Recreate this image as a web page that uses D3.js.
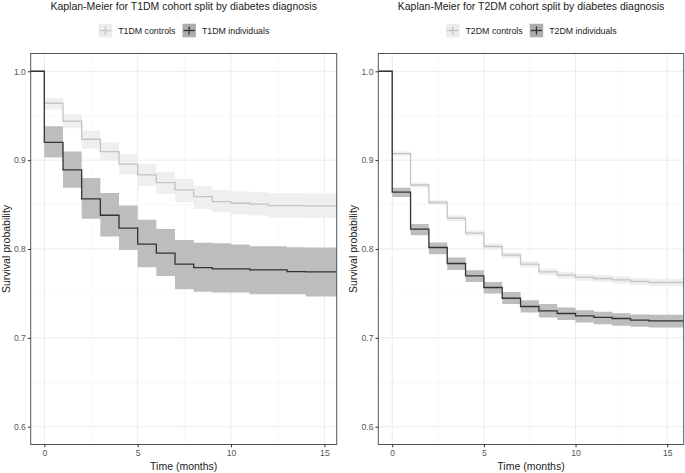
<!DOCTYPE html>
<html>
<head>
<meta charset="utf-8">
<script src="https://cdn.jsdelivr.net/npm/d3@7/dist/d3.min.js"></script>
<style>
  html, body { margin: 0; padding: 0; background: #fff; }
  svg { display: block; font-family: "Liberation Sans", Arial, sans-serif; }
</style>
</head>
<body>
<svg id="chart" width="685" height="473"></svg>
<script>
// ---------------- DATA ----------------
// Step start times (months); first entry is the left edge where S = 1
const timesT1 = [-0.73, 0, 1, 2, 3, 4, 5, 6, 7, 8, 9, 10, 11, 12, 13, 14];
const timesT2 = [-0.76, 0, 1, 2, 3, 4, 5, 6, 7, 8, 9, 10, 11, 12, 13, 14];

// T1DM panel
const t1ControlsSurv  = [1, 0.964, 0.944, 0.9235, 0.9096, 0.8954, 0.8834, 0.8747, 0.8665, 0.859, 0.8533, 0.8515, 0.8504, 0.8488, 0.8488, 0.8486];
const t1ControlsUpper = [1, 0.970, 0.952, 0.933, 0.920, 0.907, 0.8957, 0.887, 0.879, 0.871, 0.8665, 0.8646, 0.864, 0.8627, 0.8627, 0.8625];
const t1ControlsLower = [1, 0.957, 0.936, 0.913, 0.899, 0.884, 0.871, 0.862, 0.853, 0.845, 0.8414, 0.839, 0.8376, 0.8353, 0.8353, 0.835];

const t1IndivSurv  = [1, 0.920, 0.889, 0.8563, 0.838, 0.8234, 0.8054, 0.7953, 0.7830, 0.779, 0.7776, 0.7776, 0.7765, 0.7765, 0.7746, 0.7742];
const t1IndivUpper = [1, 0.938, 0.9096, 0.880, 0.863, 0.849, 0.833, 0.8226, 0.810, 0.807, 0.8065, 0.805, 0.803, 0.803, 0.802, 0.8016];
const t1IndivLower = [1, 0.903, 0.869, 0.834, 0.814, 0.799, 0.7795, 0.7697, 0.7548, 0.752, 0.751, 0.751, 0.749, 0.749, 0.749, 0.7465];

// T2DM panel
const t2ControlsSurv  = [1, 0.9074, 0.872, 0.8523, 0.8346, 0.8178, 0.8028, 0.793, 0.7829, 0.7742, 0.7705, 0.768, 0.7668, 0.7652, 0.7634, 0.7623];
const t2ControlsUpper = [1, 0.9098, 0.8747, 0.8551, 0.8376, 0.8209, 0.8061, 0.7964, 0.7864, 0.7779, 0.7743, 0.7719, 0.7708, 0.7693, 0.7676, 0.7665];
const t2ControlsLower = [1, 0.9050, 0.8693, 0.8495, 0.8316, 0.8147, 0.7995, 0.7896, 0.7794, 0.7705, 0.7667, 0.7641, 0.7628, 0.7611, 0.7592, 0.7581];

const t2IndivSurv  = [1, 0.864, 0.8223, 0.8017, 0.7837, 0.7697, 0.7567, 0.7446, 0.7353, 0.7304, 0.7274, 0.7248, 0.723, 0.7218, 0.720, 0.7192];
const t2IndivUpper = [1, 0.869, 0.828, 0.8073, 0.7904, 0.776, 0.763, 0.7517, 0.7424, 0.738, 0.7342, 0.7312, 0.7293, 0.7278, 0.7263, 0.726];
const t2IndivLower = [1, 0.8586, 0.8155, 0.794, 0.7765, 0.763, 0.750, 0.738, 0.7286, 0.723, 0.720, 0.7173, 0.7154, 0.7135, 0.7124, 0.7117];

// Labels / ticks
const titles = ["Kaplan-Meier for T1DM cohort split by diabetes diagnosis",
                "Kaplan-Meier for T2DM cohort split by diabetes diagnosis"];
const legendLabelsT1 = ["T1DM controls", "T1DM individuals"];
const legendLabelsT2 = ["T2DM controls", "T2DM individuals"];
const xTicks = [0, 5, 10, 15];
const xMinor = [2.5, 7.5, 12.5];
const yTicks = [0.6, 0.7, 0.8, 0.9, 1.0];
const yMinor = [0.65, 0.75, 0.85, 0.95];
const xTitle = "Time (months)";
const yTitle = "Survival probability";

// ---------------- STYLE ----------------
const style = {
  lightLine: "#c4c4c4", lightBand: "#efefef",
  darkLine: "#333333",  darkBand: "#bdbdbd",
  lightKey: "#ececec", darkKey: "#adadad"
};

const svg = d3.select("#chart");

function drawPanel(cfg) {
  const g = svg.append("g");
  const x = d3.scaleLinear().domain(cfg.xDomain).range([cfg.left, cfg.right]);
  const y = d3.scaleLinear().domain([0.58, 1.02]).range([444.5, 53.5]);
  const [x0, x1] = x.range();
  const [y0, y1] = y.range();
  const cx = (x0 + x1) / 2;

  // grid
  g.selectAll(".gxm").data(xMinor).join("line")
    .attr("x1", d => x(d)).attr("x2", d => x(d)).attr("y1", y0).attr("y2", y1)
    .attr("stroke", "#f3f3f3").attr("stroke-width", 0.6);
  g.selectAll(".gym").data(yMinor).join("line")
    .attr("y1", d => y(d)).attr("y2", d => y(d)).attr("x1", x0).attr("x2", x1)
    .attr("stroke", "#f3f3f3").attr("stroke-width", 0.6);
  g.selectAll(".gx").data(xTicks).join("line")
    .attr("x1", d => x(d)).attr("x2", d => x(d)).attr("y1", y0).attr("y2", y1)
    .attr("stroke", "#ebebeb").attr("stroke-width", 1);
  g.selectAll(".gy").data(yTicks).join("line")
    .attr("y1", d => y(d)).attr("y2", d => y(d)).attr("x1", x0).attr("x2", x1)
    .attr("stroke", "#ebebeb").attr("stroke-width", 1);

  const last = x.domain()[1];
  function pts(times, vals) {
    const p = times.map((t, i) => [t, vals[i]]);
    p.push([last, vals[vals.length - 1]]);
    return p;
  }
  const area = d3.area().curve(d3.curveStepAfter)
    .x(d => x(d[0])).y0(d => y(d[1])).y1(d => y(d[2]));
  const line = d3.line().curve(d3.curveStepAfter).x(d => x(d[0])).y(d => y(d[1]));

  function band(times, up, lo) {
    const p = times.map((t, i) => [t, lo[i], up[i]]);
    p.push([last, lo[lo.length - 1], up[up.length - 1]]);
    return p;
  }

  g.append("path").attr("d", area(band(cfg.times, cfg.cUp, cfg.cLo))).attr("fill", style.lightBand);
  g.append("path").attr("d", area(band(cfg.times, cfg.iUp, cfg.iLo))).attr("fill", style.darkBand);
  g.append("path").attr("d", line(pts(cfg.times, cfg.cS))).attr("fill", "none")
    .attr("stroke", style.lightLine).attr("stroke-width", 1.3);
  g.append("path").attr("d", line(pts(cfg.times, cfg.iS))).attr("fill", "none")
    .attr("stroke", style.darkLine).attr("stroke-width", 1.3);

  // border
  g.append("rect").attr("x", x0).attr("y", y1).attr("width", x1 - x0).attr("height", y0 - y1)
    .attr("fill", "none").attr("stroke", "#555").attr("stroke-width", 1);

  // axes
  const xAxis = d3.axisBottom(x).tickValues(xTicks).tickSize(2.8).tickPadding(3).tickFormat(d3.format("d"));
  const gx = g.append("g").attr("transform", `translate(0,${y0})`).call(xAxis);
  const yAxis = d3.axisLeft(y).tickValues(yTicks).tickSize(2.8).tickPadding(2).tickFormat(d3.format(".1f"));
  const gy = g.append("g").attr("transform", `translate(${x0},0)`).call(yAxis);
  [gx, gy].forEach(a => {
    a.select(".domain").remove();
    a.selectAll(".tick line").attr("stroke", "#333");
    a.selectAll(".tick text").attr("fill", "#555").style("font-size", "8.6px")
      .style("font-family", "Liberation Sans, Arial, sans-serif");
  });

  // axis titles
  g.append("text").attr("x", cx).attr("y", 469.5).attr("text-anchor", "middle")
    .attr("fill", "#222").style("font-size", "10.5px").text(xTitle);
  g.append("text").attr("transform", `translate(${x0 - 21},${(y0 + y1) / 2}) rotate(-90)`)
    .attr("text-anchor", "middle").attr("fill", "#222").style("font-size", "10.5px").text(yTitle);

  // title
  g.append("text").attr("x", cx).attr("y", 9.5).attr("text-anchor", "middle")
    .attr("fill", "#222").style("font-size", "10.5px").text(cfg.title);

  // legend
  const ly = 30.5, ks = 13.5;
  let lx = cx - 85;
  cfg.legend.forEach((lab, i) => {
    const kg = g.append("g");
    kg.append("rect").attr("x", lx).attr("y", ly - ks / 2).attr("width", ks).attr("height", ks)
      .attr("fill", i === 0 ? style.lightKey : style.darkKey);
    const lc = i === 0 ? style.lightLine : style.darkLine;
    kg.append("line").attr("x1", lx + 1).attr("x2", lx + ks - 1).attr("y1", ly).attr("y2", ly)
      .attr("stroke", lc).attr("stroke-width", 1.3);
    kg.append("line").attr("x1", lx + ks / 2).attr("x2", lx + ks / 2).attr("y1", ly - 4).attr("y2", ly + 4)
      .attr("stroke", lc).attr("stroke-width", 1.3);
    const t = g.append("text").attr("x", lx + ks + 6).attr("y", ly + 3.1)
      .attr("fill", "#222").style("font-size", "8.8px").text(lab);
    lx = lx + ks + 6 + t.node().getComputedTextLength() + 7;
  });
}

drawPanel({
  left: 30.7, right: 336.7, xDomain: [-0.73, 15.66], times: timesT1,
  cS: t1ControlsSurv, cUp: t1ControlsUpper, cLo: t1ControlsLower,
  iS: t1IndivSurv, iUp: t1IndivUpper, iLo: t1IndivLower,
  title: titles[0], legend: legendLabelsT1
});
drawPanel({
  left: 378.3, right: 683.7, xDomain: [-0.76, 15.9], times: timesT2,
  cS: t2ControlsSurv, cUp: t2ControlsUpper, cLo: t2ControlsLower,
  iS: t2IndivSurv, iUp: t2IndivUpper, iLo: t2IndivLower,
  title: titles[1], legend: legendLabelsT2
});
</script>
</body>
</html>
